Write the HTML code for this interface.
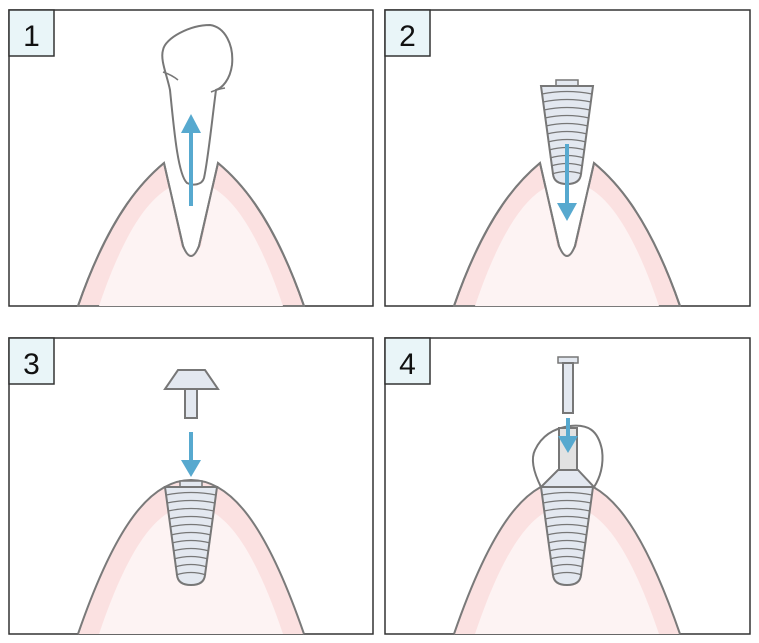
<!DOCTYPE html>
<html><head><style>
body{margin:0;background:#fff;}
svg{display:block;}
</style></head><body>
<svg width="759" height="643" viewBox="0 0 759 643" xmlns="http://www.w3.org/2000/svg">
<defs>
<g id="impl">
  <rect x="-11" y="-6" width="22" height="6" fill="#e3e8f0" stroke="#777" stroke-width="1.5"/>
  <path d="M-26,0 L26,0 L14,88 Q13,98 0,98 Q-13,98 -14,88 Z" fill="#e3e8f0" stroke="#777" stroke-width="2"/>
  <g stroke="#777" stroke-width="1.2" fill="none">
    <path d="M-25,8 Q0,3 25,8"/><path d="M-24,16 Q0,11 24,16"/><path d="M-23,24 Q0,19 23,24"/>
    <path d="M-22,32 Q0,27 22,32"/><path d="M-21,40 Q0,35 21,40"/><path d="M-20,48 Q0,43 20,48"/>
    <path d="M-19,56 Q0,51 19,56"/><path d="M-18,64 Q0,59 18,64"/><path d="M-17,72 Q0,67 17,72"/>
    <path d="M-16,80 Q0,75 16,80"/><path d="M-15,88 Q0,83 15,88"/>
  </g>
</g>
<g id="gumS">
  <path d="M-113,0 C-80,-95 -45,-128 -27,-143 L-8,-60 Q0,-40 8,-60 L27,-143 C45,-128 80,-95 113,0 Z" fill="#fbe1e1" stroke="#7a7a7a" stroke-width="2"/>
  <path d="M-92,0 C-65,-80 -40,-108 -22,-118 L-10,-60 Q0,-45 10,-60 L22,-118 C40,-108 65,-80 92,0 Z" fill="#fdf3f3"/>
  <path d="M-113,0 C-80,-95 -45,-128 -27,-143 L-8,-60 Q0,-40 8,-60 L27,-143 C45,-128 80,-95 113,0" fill="none" stroke="#7a7a7a" stroke-width="2"/>
</g>
<g id="gumF">
  <path d="M-113,0 C-75,-110 -40,-154 0,-154 C40,-154 75,-110 113,0 Z" fill="#fbe1e1"/>
  <path d="M-92,0 C-60,-95 -30,-128 0,-128 C30,-128 60,-95 92,0 Z" fill="#fdf3f3"/>
  <path d="M-113,0 C-75,-110 -40,-154 0,-154 C40,-154 75,-110 113,0" fill="none" stroke="#7a7a7a" stroke-width="2"/>
</g>
</defs>

<!-- panel 1 -->
<rect x="9" y="10" width="364" height="296" fill="#fff" stroke="#333" stroke-width="1.5"/>
<use href="#gumS" x="191" y="306"/>
<path d="M170,90 C167,75 160,60 163,50 C165,38 190,25 210,25 C225,27 234,45 232,65 C230,80 222,88 216,90 C212,120 208,160 204,178 C202,185 193,186 187,183 C178,175 174,130 170,90 Z" fill="#fff" stroke="#777" stroke-width="2"/>
<path d="M163,72 Q172,75 178,80 M211,92 Q218,89 225,88" fill="none" stroke="#777" stroke-width="1.5"/>
<rect x="189" y="130" width="4" height="76" fill="#57a9cf"/>
<polygon points="191,114 181,133 201,133" fill="#57a9cf"/>
<rect x="9" y="10" width="45" height="46" fill="#e9f5f8" stroke="#333" stroke-width="1.5"/>
<text x="31.5" y="46" font-family="Liberation Sans, sans-serif" font-size="30" text-anchor="middle" fill="#111">1</text>

<!-- panel 2 -->
<rect x="385" y="10" width="365" height="296" fill="#fff" stroke="#333" stroke-width="1.5"/>
<use href="#gumS" x="567" y="306"/>
<use href="#impl" x="567" y="86"/>
<rect x="565" y="144" width="4" height="62" fill="#57a9cf"/>
<polygon points="567,221 557,203 577,203" fill="#57a9cf"/>
<rect x="385" y="10" width="45" height="46" fill="#e9f5f8" stroke="#333" stroke-width="1.5"/>
<text x="407.5" y="46" font-family="Liberation Sans, sans-serif" font-size="30" text-anchor="middle" fill="#111">2</text>

<!-- panel 3 -->
<rect x="9" y="338" width="364" height="296" fill="#fff" stroke="#333" stroke-width="1.5"/>
<use href="#gumF" x="191" y="634"/>
<use href="#impl" x="191" y="487"/>
<path d="M178,370 L205,370 L218,389 L165,389 Z" fill="#e3e8f0" stroke="#777" stroke-width="2"/>
<rect x="185" y="389" width="12" height="29" fill="#e3e8f0" stroke="#777" stroke-width="2"/>
<rect x="189" y="432" width="4" height="30" fill="#57a9cf"/>
<polygon points="191,477 181,460 201,460" fill="#57a9cf"/>
<rect x="9" y="338" width="45" height="46" fill="#e9f5f8" stroke="#333" stroke-width="1.5"/>
<text x="31.5" y="374" font-family="Liberation Sans, sans-serif" font-size="30" text-anchor="middle" fill="#111">3</text>

<!-- panel 4 -->
<rect x="385" y="338" width="365" height="296" fill="#fff" stroke="#333" stroke-width="1.5"/>
<use href="#gumF" x="567" y="634"/>
<path d="M541,487 C535,475 530,460 535,450 C542,435 555,428 570,426 C588,424 598,430 602,450 C604,465 600,478 594,487" fill="none" stroke="#777" stroke-width="2"/>
<use href="#impl" x="567" y="487"/>
<rect x="559" y="428" width="18" height="42" fill="#e2e2e2" stroke="#777" stroke-width="2"/>
<path d="M558,470 L578,470 L594,487 L541,487 Z" fill="#e3e8f0" stroke="#777" stroke-width="2"/>
<rect x="558" y="357" width="20" height="6" fill="#e3e8f0" stroke="#777" stroke-width="1.5"/>
<rect x="563" y="363" width="10" height="50" fill="#e3e8f0" stroke="#777" stroke-width="2"/>
<rect x="566" y="418" width="4" height="20" fill="#57a9cf"/>
<polygon points="568,453 558,436 578,436" fill="#57a9cf"/>
<rect x="385" y="338" width="45" height="46" fill="#e9f5f8" stroke="#333" stroke-width="1.5"/>
<text x="407.5" y="374" font-family="Liberation Sans, sans-serif" font-size="30" text-anchor="middle" fill="#111">4</text>
</svg>
</body></html>
